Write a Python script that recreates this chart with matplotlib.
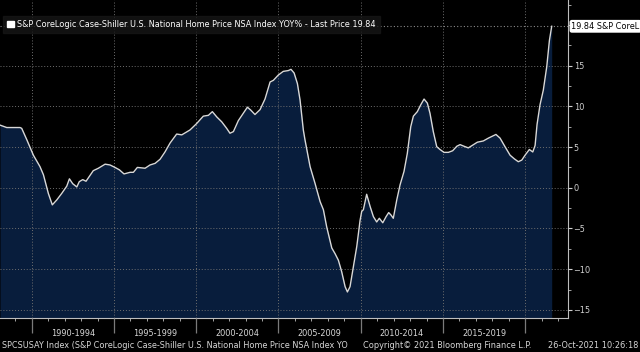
import matplotlib
matplotlib.use("Agg")
import matplotlib.pyplot as plt
import numpy as np
from matplotlib import font_manager
from matplotlib.patches import Patch
from matplotlib.ticker import MultipleLocator, FixedLocator
import matplotlib.transforms as mtransforms

# S&P CoreLogic Case-Shiller national YoY % (decimal years)
years = [1988.07, 1988.48, 1989.29, 1989.39, 1989.70, 1990.10, 1990.50, 1990.71,
         1991.01, 1991.25, 1991.52, 1991.82, 1992.13, 1992.29, 1992.49, 1992.74,
         1992.89, 1993.10, 1993.30, 1993.50, 1993.74, 1994.05, 1994.46, 1994.76,
         1995.06, 1995.33, 1995.61, 1995.98, 1996.18, 1996.42, 1996.89, 1997.19,
         1997.50, 1997.80, 1998.10, 1998.41, 1998.81, 1999.12, 1999.62, 2000.03,
         2000.43, 2000.74, 2000.98, 2001.25, 2001.55, 2001.85, 2002.05, 2002.26,
         2002.56, 2002.86, 2003.11, 2003.31, 2003.57, 2003.88, 2004.18, 2004.49,
         2004.69, 2004.99, 2005.29, 2005.60, 2005.76, 2005.95, 2006.15, 2006.31,
         2006.51, 2006.61, 2006.92, 2007.22, 2007.53, 2007.73, 2007.93, 2008.24,
         2008.44, 2008.64, 2008.84, 2009.05, 2009.19, 2009.35, 2009.55, 2009.76,
         2009.96, 2010.06, 2010.16, 2010.36, 2010.57, 2010.77, 2010.97, 2011.13,
         2011.34, 2011.54, 2011.70, 2011.84, 2011.98, 2012.19, 2012.39, 2012.63,
         2012.83, 2013.04, 2013.20, 2013.44, 2013.65, 2013.85, 2014.05, 2014.21,
         2014.41, 2014.62, 2014.82, 2015.06, 2015.33, 2015.59, 2015.84, 2016.04,
         2016.28, 2016.54, 2016.81, 2017.09, 2017.45, 2017.76, 2018.02, 2018.22,
         2018.47, 2018.77, 2019.08, 2019.34, 2019.58, 2019.79, 2019.99, 2020.25,
         2020.46, 2020.60, 2020.72, 2020.90, 2021.10, 2021.31, 2021.47, 2021.61]
yoy = [7.7, 7.4, 7.4, 7.3, 5.9, 4.0, 2.6, 1.6,
       -0.7, -2.1, -1.5, -0.7, 0.2, 1.1, 0.5, 0.1,
       0.75, 1.0, 0.8, 1.4, 2.1, 2.4, 2.9, 2.8,
       2.5, 2.2, 1.7, 1.9, 1.9, 2.5, 2.4, 2.8,
       3.0, 3.5, 4.4, 5.5, 6.6, 6.5, 7.1, 7.9,
       8.8, 8.9, 9.35, 8.7, 8.1, 7.3, 6.7, 6.9,
       8.25, 9.15, 9.9, 9.55, 9.0, 9.6, 10.9, 13.0,
       13.2, 13.85, 14.3, 14.4, 14.55, 14.1, 12.8, 10.8,
       7.1, 5.9, 2.6, 0.55, -1.7, -2.7, -4.8, -7.4,
       -8.1, -8.9, -10.3, -12.15, -12.8, -12.15, -9.7, -7.2,
       -4.0, -2.9, -2.7, -0.8, -2.3, -3.55, -4.2, -3.75,
       -4.3, -3.55, -3.05, -3.35, -3.75, -1.5, 0.35, 2.0,
       4.2, 7.5, 8.8, 9.35, 10.2, 10.9, 10.4, 9.15,
       6.9, 5.05, 4.7, 4.35, 4.35, 4.55, 5.1, 5.3,
       5.1, 4.9, 5.25, 5.6, 5.75, 6.1, 6.35, 6.55,
       6.1, 5.05, 4.0, 3.55, 3.2, 3.4, 4.0, 4.7,
       4.4, 5.2, 7.8, 10.2, 12.0, 14.9, 18.1, 19.84]
last_price = 19.84

ytick_vals = [-15, -10, -5, 0, 5, 10, 15]
period_starts = [1990, 1995, 2000, 2005, 2010, 2015]
period_labels = ["1990-1994", "1995-1999", "2000-2004", "2005-2009",
                 "2010-2014", "2015-2019"]

title = "S&P CoreLogic Case-Shiller U.S. National Home Price NSA Index YOY% - Last Price 19.84"
tag = "19.84 S&P CoreL"
footer_left = "SPCSUSAY Index (S&P CoreLogic Case-Shiller U.S. National Home Price NSA Index YO"
footer_mid = "Copyright\u00a9 2021 Bloomberg Finance L.P."
footer_right = "26-Oct-2021 10:26:18"

# condensed font if there is one
names = {f.name for f in font_manager.fontManager.ttflist}
if "Liberation Sans Narrow" in names:
    font, fs = "Liberation Sans Narrow", 7.1
else:
    font, fs = "DejaVu Sans", 5.85
plt.rcParams["font.family"] = [font, "DejaVu Sans"]

fig = plt.figure(figsize=(6.4, 3.52), dpi=100, facecolor="black")
ax = fig.add_axes([0, 34/352, 568/640, 318/352])
ax.set_facecolor("black")

ymin = -16.0
ax.fill_between(years, yoy, ymin, color="#081d3c", lw=0, zorder=1)
ax.plot(years, yoy, color="#d8d8d8", lw=1.0, zorder=3)
ax.axhline(last_price, color="#8a8a8a", lw=0.8, ls=(0, (1, 2)), zorder=2)

ax.set_xlim(1988.07, 2022.6)
ax.set_ylim(ymin, 23.07)

# axes styling
for s in ("left", "top"):
    ax.spines[s].set_visible(False)
for s in ("right", "bottom"):
    ax.spines[s].set_color("#bdbdbd")
    ax.spines[s].set_linewidth(0.8)

ax.yaxis.tick_right()
ax.yaxis.set_major_locator(FixedLocator(ytick_vals))
ax.yaxis.set_minor_locator(MultipleLocator(2.5))
ax.tick_params(axis="y", which="major", colors="#d0d0d0", labelsize=fs,
               length=3, width=0.8, pad=1)
ax.tick_params(axis="y", which="minor", colors="#bdbdbd", length=2, width=0.6)

ax.xaxis.set_major_locator(FixedLocator(period_starts + [2020]))
ax.xaxis.set_minor_locator(MultipleLocator(1))
ax.set_xticklabels([])
ax.tick_params(axis="x", which="major", colors="#7a7a7a", length=11, width=0.9)
ax.tick_params(axis="x", which="minor", colors="#bdbdbd", length=2, width=0.6)

ax.grid(True, which="major", color="#6e6e6e", lw=0.7, ls=(0, (1, 2)))
ax.set_axisbelow(False)

# period labels between the major ticks
trans = mtransforms.blended_transform_factory(ax.transData, fig.transFigure)
for start, lab in zip(period_starts, period_labels):
    fig.text(start + 2.5, 18/352, lab, transform=trans, ha="center", va="center",
             color="#d8d8d8", fontsize=fs)

# legend box
leg = ax.legend([Patch(facecolor="white", edgecolor="white")], [title],
                loc="upper left", bbox_to_anchor=(3/568, 1 - 16/318),
                borderaxespad=0, frameon=True, fancybox=False, fontsize=fs,
                handlelength=0.85, handleheight=0.85, handletextpad=0.4,
                borderpad=0.5, labelcolor="white")
leg.get_frame().set_facecolor("#161616")
leg.get_frame().set_edgecolor("#161616")
leg.set_zorder(10)

# last price tag
ax.annotate(tag, xy=(1, last_price), xycoords=("axes fraction", "data"),
            xytext=(2.5, 0), textcoords="offset points", ha="left", va="center",
            fontsize=fs, color="black", annotation_clip=False, zorder=11,
            bbox=dict(boxstyle="round,pad=0.15,rounding_size=0.2", fc="white", ec="white"))

# footer
fig.text(2/640, 6/352, footer_left, ha="left", va="center", color="#d8d8d8", fontsize=fs)
fig.text(447/640, 6/352, footer_mid, ha="center", va="center", color="#d8d8d8", fontsize=fs)
fig.text(638/640, 6/352, footer_right, ha="right", va="center", color="#d8d8d8", fontsize=fs)

fig.savefig("out.png", dpi=100, facecolor="black")
